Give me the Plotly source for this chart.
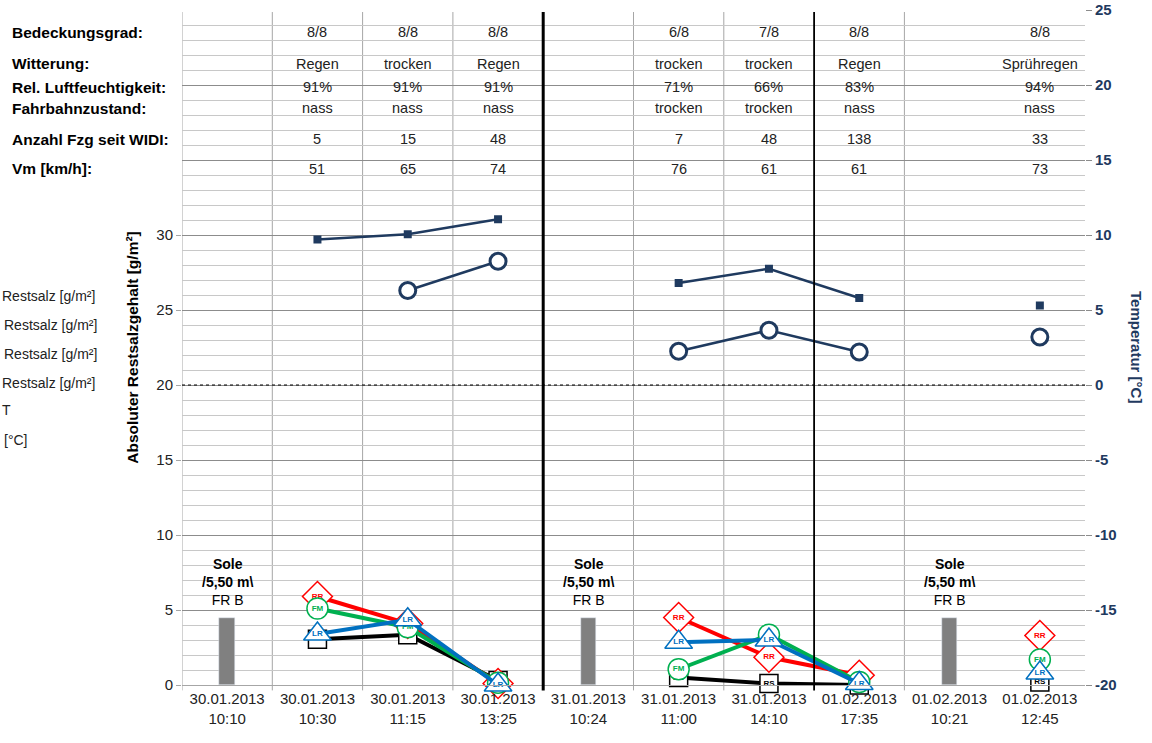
import plotly.graph_objects as go

# Messzeitpunkte (Kategorien)
zeitpunkte = [
    "30.01.2013<br>10:10", "30.01.2013<br>10:30", "30.01.2013<br>11:15", "30.01.2013<br>13:25",
    "31.01.2013<br>10:24", "31.01.2013<br>11:00", "31.01.2013<br>14:10", "01.02.2013<br>17:35",
    "01.02.2013<br>10:21", "01.02.2013<br>12:45",
]
x_idx = list(range(len(zeitpunkte)))

# Restsalz [g/m²]
rr = [None, 5.9, 4.1, 0.1, None, 4.5, 1.85, 0.65, None, 3.3]
fm = [None, 5.1, 3.85, 0.15, None, 1.05, 3.35, 0.2, None, 1.7]
lr = [None, 3.4, 4.35, 0.0, None, 2.85, 3.0, 0.1, None, 0.8]
rs = [None, 3.05, 3.35, 0.3, None, 0.5, 0.1, 0.0, None, 0.2]
sole = [4.5, None, None, None, 4.5, None, None, None, 4.5, None]

# Temperatur [°C]
t_luft = [None, 9.7, 10.05, 11.05, None, 6.8, 7.75, 5.8, None, 5.3]
t_fahrbahn = [None, None, 6.3, 8.25, None, 2.25, 3.65, 2.2, None, 3.2]

# Tabelle oben
row_labels = ["Bedeckungsgrad:", "Witterung:", "Rel. Luftfeuchtigkeit:", "Fahrbahnzustand:",
              "Anzahl Fzg seit WIDI:", "Vm [km/h]:"]
bedeckung = [None, "8/8", "8/8", "8/8", None, "6/8", "7/8", "8/8", None, "8/8"]
witterung = [None, "Regen", "trocken", "Regen", None, "trocken", "trocken", "Regen", None, "Sprühregen"]
feuchte = [None, "91%", "91%", "91%", None, "71%", "66%", "83%", None, "94%"]
fahrbahn = [None, "nass", "nass", "nass", None, "trocken", "trocken", "nass", None, "nass"]
anzahl = [None, "5", "15", "48", None, "7", "48", "138", None, "33"]
vm = [None, "51", "65", "74", None, "76", "61", "61", None, "73"]
table_rows = [bedeckung, witterung, feuchte, fahrbahn, anzahl, vm]

legend_texts = ["Restsalz [g/m²]", "Restsalz [g/m²]", "Restsalz [g/m²]", "Restsalz [g/m²]", "T", "[°C]"]

FONT = "Arial, Liberation Sans, sans-serif"
NAVY = "#1f3a5f"
H = 675.0  # plot height in px, used to place table rows
row_px = [32, 64, 87, 108, 139, 169]
legend_px = [296, 325, 354, 383, 410, 440]
legend_dx = [0, 2, 2, 0, 0, 2]

# markers whose label is covered by other markers in the original
hidden = {"RR": [2, 3, 7], "FM": [3, 6, 7], "RS": [1, 2, 3, 7], "LR": []}

fig = go.Figure()

fig.add_trace(go.Bar(x=x_idx, y=sole, width=0.17, marker_color="#808080", showlegend=False))

salz = [
    ("RS", rs, "black", "square", 18),
    ("RR", rr, "#ff0000", "diamond", 23),
    ("FM", fm, "#00b050", "circle", 21),
    ("LR", lr, "#0070c0", "triangle-up", 24),
]
for name, vals, col, sym, size in salz:
    labels = [f"<b>{name}</b>" if (v is not None and i not in hidden[name]) else None
              for i, v in enumerate(vals)]
    fig.add_trace(go.Scatter(
        x=x_idx, y=vals, mode="lines+markers+text",
        text=labels,
        textposition="middle center",
        textfont=dict(family=FONT, size=8, color=col),
        line=dict(color=col, width=4),
        marker=dict(symbol=sym, size=size, color="white", line=dict(color=col, width=1.5)),
        showlegend=False, cliponaxis=False,
    ))

fig.add_trace(go.Scatter(
    x=x_idx, y=t_luft, yaxis="y2", mode="lines+markers",
    line=dict(color=NAVY, width=2.5),
    marker=dict(symbol="square", size=8, color=NAVY),
    showlegend=False,
))
fig.add_trace(go.Scatter(
    x=x_idx, y=t_fahrbahn, yaxis="y2", mode="lines+markers",
    line=dict(color=NAVY, width=2.5),
    marker=dict(symbol="circle", size=16, color="white", line=dict(color=NAVY, width=3)),
    showlegend=False,
))

shapes = []
for b in [-0.5, 0.5, 1.5, 2.5, 4.5, 5.5, 7.5]:
    shapes.append(dict(type="line", xref="x", yref="paper", x0=b, x1=b, y0=-0.008, y1=0.997,
                       line=dict(color="#a6a6a6", width=1), layer="below"))
shapes.append(dict(type="line", xref="x", yref="paper", x0=3.5, x1=3.5, y0=-0.008, y1=0.997,
                   line=dict(color="black", width=3)))
shapes.append(dict(type="line", xref="x", yref="paper", x0=6.5, x1=6.5, y0=-0.008, y1=0.997,
                   line=dict(color="black", width=1.8)))
shapes.append(dict(type="line", xref="paper", yref="y2", x0=0, x1=1, y0=0, y1=0,
                   line=dict(color="black", width=1, dash="dot")))

annotations = []
for lab, py in zip(row_labels, row_px):
    annotations.append(dict(text=f"<b>{lab}</b>", xref="paper", yref="paper", x=-0.19,
                            y=(685 - py) / H, xanchor="left", yanchor="middle", showarrow=False,
                            font=dict(family=FONT, size=15.5, color="black")))
for vals, py in zip(table_rows, row_px):
    for i, v in enumerate(vals):
        if v is None:
            continue
        annotations.append(dict(text=v, xref="x", yref="paper", x=i, y=(685 - py) / H,
                                xanchor="center", yanchor="middle", showarrow=False,
                                font=dict(family=FONT, size=14.5, color="#222")))
for t, py, dx in zip(legend_texts, legend_px, legend_dx):
    annotations.append(dict(text=t, xref="paper", yref="paper", x=(dx - 182) / 903,
                            y=(685 - py) / H, xanchor="left", yanchor="middle", showarrow=False,
                            font=dict(family=FONT, size=14, color="#222")))
for i, v in enumerate(sole):
    if v is None:
        continue
    annotations.append(dict(text="<b>Sole</b><br><b>/5,50 m\\</b><br>FR B", xref="x", yref="y",
                            x=i, y=v, xanchor="center", yanchor="bottom", yshift=8,
                            showarrow=False, font=dict(family=FONT, size=14, color="black")))
annotations.append(dict(text="<b>Temperatur [°C]</b>", xref="paper", yref="paper", x=1.057, y=0.5,
                        textangle=90, xanchor="center", yanchor="middle", showarrow=False,
                        font=dict(family=FONT, size=15, color=NAVY)))

fig.update_layout(
    width=1152, height=743,
    margin=dict(l=182, r=67, t=10, b=58, autoexpand=False),
    paper_bgcolor="white", plot_bgcolor="white",
    font=dict(family=FONT, color="#222"),
    bargap=0,
    xaxis=dict(range=[-0.5, 9.5], tickvals=x_idx, ticktext=zeitpunkte, showgrid=False,
               zeroline=False, showline=True, linecolor="#a6a6a6", ticks="", automargin=False,
               tickfont=dict(size=15, color="#222")),
    yaxis=dict(range=[0, 45], tickvals=[0, 5, 10, 15, 20, 25, 30], showgrid=False, zeroline=False,
               automargin=False,
               tickfont=dict(size=15, color="#222"), ticks="outside", ticklen=5, tickcolor="#a6a6a6",
               title=dict(text="<b>Absoluter Restsalzgehalt [g/m²]</b>", standoff=13,
                          font=dict(size=15.5, color="black"))),
    yaxis2=dict(range=[-20, 25], overlaying="y", side="right",
                tickvals=list(range(-20, 26, 5)),
                ticktext=[f"<b>{v}</b>" for v in range(-20, 26, 5)],
                showgrid=True, gridcolor="#8c8c8c", gridwidth=1, zeroline=False, automargin=False,
                minor=dict(dtick=1, tick0=-20, showgrid=True, gridcolor="#c8c8c8", gridwidth=1),
                ticks="outside", ticklen=6, tickcolor="#8c8c8c",
                tickfont=dict(size=15, color=NAVY, family=FONT)),
    shapes=shapes,
    annotations=annotations,
)

# page has a default body margin; drop it so the figure sits at the top-left corner
fig.write_html("out.html", config={"displayModeBar": False},
               post_script="document.body.style.margin='0px';")
